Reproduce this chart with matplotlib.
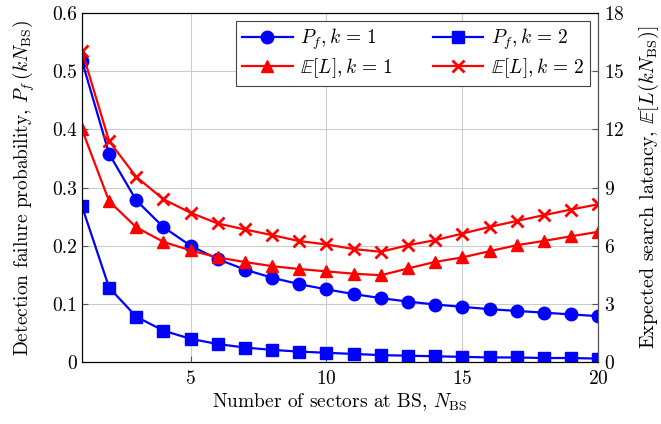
import matplotlib

matplotlib.use("Agg")

import matplotlib.pyplot as plt
import numpy as np

plt.rcParams["font.family"] = "cmr10"
plt.rcParams["mathtext.fontset"] = "cm"
plt.rcParams["axes.formatter.use_mathtext"] = True
plt.rcParams["axes.unicode_minus"] = False

n_sectors = np.arange(1, 21)

pf_k1 = [0.518, 0.358, 0.278, 0.232, 0.200, 0.177, 0.159, 0.145, 0.134, 0.125,
         0.117, 0.110, 0.104, 0.099, 0.095, 0.091, 0.088, 0.085, 0.082, 0.079]
pf_k2 = [0.268, 0.128, 0.078, 0.054, 0.040, 0.031, 0.025, 0.021, 0.018, 0.016,
         0.014, 0.012, 0.011, 0.010, 0.009, 0.008, 0.008, 0.007, 0.007, 0.006]
latency_k1 = [12.0, 8.3, 6.95, 6.2, 5.76, 5.4, 5.16, 4.95, 4.8, 4.68,
              4.56, 4.48, 4.83, 5.17, 5.4, 5.72, 6.03, 6.25, 6.49, 6.72]
latency_k2 = [16.05, 11.4, 9.55, 8.4, 7.7, 7.15, 6.84, 6.55, 6.24, 6.07,
              5.83, 5.69, 6.03, 6.29, 6.63, 6.97, 7.28, 7.58, 7.87, 8.14]

left_ticks = [0, 0.1, 0.2, 0.3, 0.4, 0.5, 0.6]
left_tick_labels = ["0", "0.1", "0.2", "0.3", "0.4", "0.5", "0.6"]
right_ticks = [0, 3, 6, 9, 12, 15, 18]
x_ticks = [5, 10, 15, 20]

fig = plt.figure(figsize=(6.61, 4.24), dpi=100)
ax = fig.add_axes([0.124, 0.146, 0.781, 0.823])
ax2 = ax.twinx()

line_kw = dict(linewidth=1.6)
h1, = ax.plot(n_sectors, pf_k1, color="blue", marker="o", markersize=9,
              label=r"$P_f, k\,=\,1$", **line_kw)
h3, = ax.plot(n_sectors, pf_k2, color="blue", marker="s", markersize=8,
              label=r"$P_f, k\,=\,2$", **line_kw)
h2, = ax2.plot(n_sectors, latency_k1, color="red", marker="^", markersize=9,
               label=r"$\mathbb{E}[L], k\,=\,1$", **line_kw)
h4, = ax2.plot(n_sectors, latency_k2, color="red", marker="x", markersize=9,
               markeredgewidth=2, label=r"$\mathbb{E}[L], k\,=\,2$", **line_kw)

ax.set_xlim(1, 20)
ax.set_ylim(0, 0.6)
ax2.set_ylim(0, 18)
ax.set_xticks(x_ticks)
ax.set_yticks(left_ticks)
ax.set_yticklabels(left_tick_labels)
ax2.set_yticks(right_ticks)

ax.grid(True, color="#cccccc", linewidth=0.8)
ax.set_axisbelow(True)
for a in (ax, ax2):
    a.tick_params(direction="in", labelsize=14, length=4, color="#555555")
    for sp in a.spines.values():
        sp.set_linewidth(0.8)
ax2.spines["right"].set_color("#555555")
ax.tick_params(axis="x", pad=6)
ax2.tick_params(axis="y", pad=4)

ax.set_xlabel(r"Number of sectors at BS, $N_{\mathrm{BS}}$", fontsize=14, labelpad=2)
ax.set_ylabel(r"Detection failure probability, $P_f\,(kN_{\mathrm{BS}})$", fontsize=14,
              labelpad=11)
ax2.set_ylabel(r"Expected search latency, $\mathbb{E}[L(kN_{\mathrm{BS}})]$", fontsize=14.5,
               labelpad=9)

leg = ax2.legend(handles=[h1, h2, h3, h4], ncol=2, loc="upper right",
                 fontsize=14, fancybox=False, edgecolor="#444444",
                 framealpha=1, borderaxespad=0.4, columnspacing=2.0,
                 handlelength=2.6, handletextpad=0.4, labelspacing=0.2,
                 borderpad=0.3)
leg.get_frame().set_linewidth(0.8)

fig.savefig("out.png", dpi=100)
